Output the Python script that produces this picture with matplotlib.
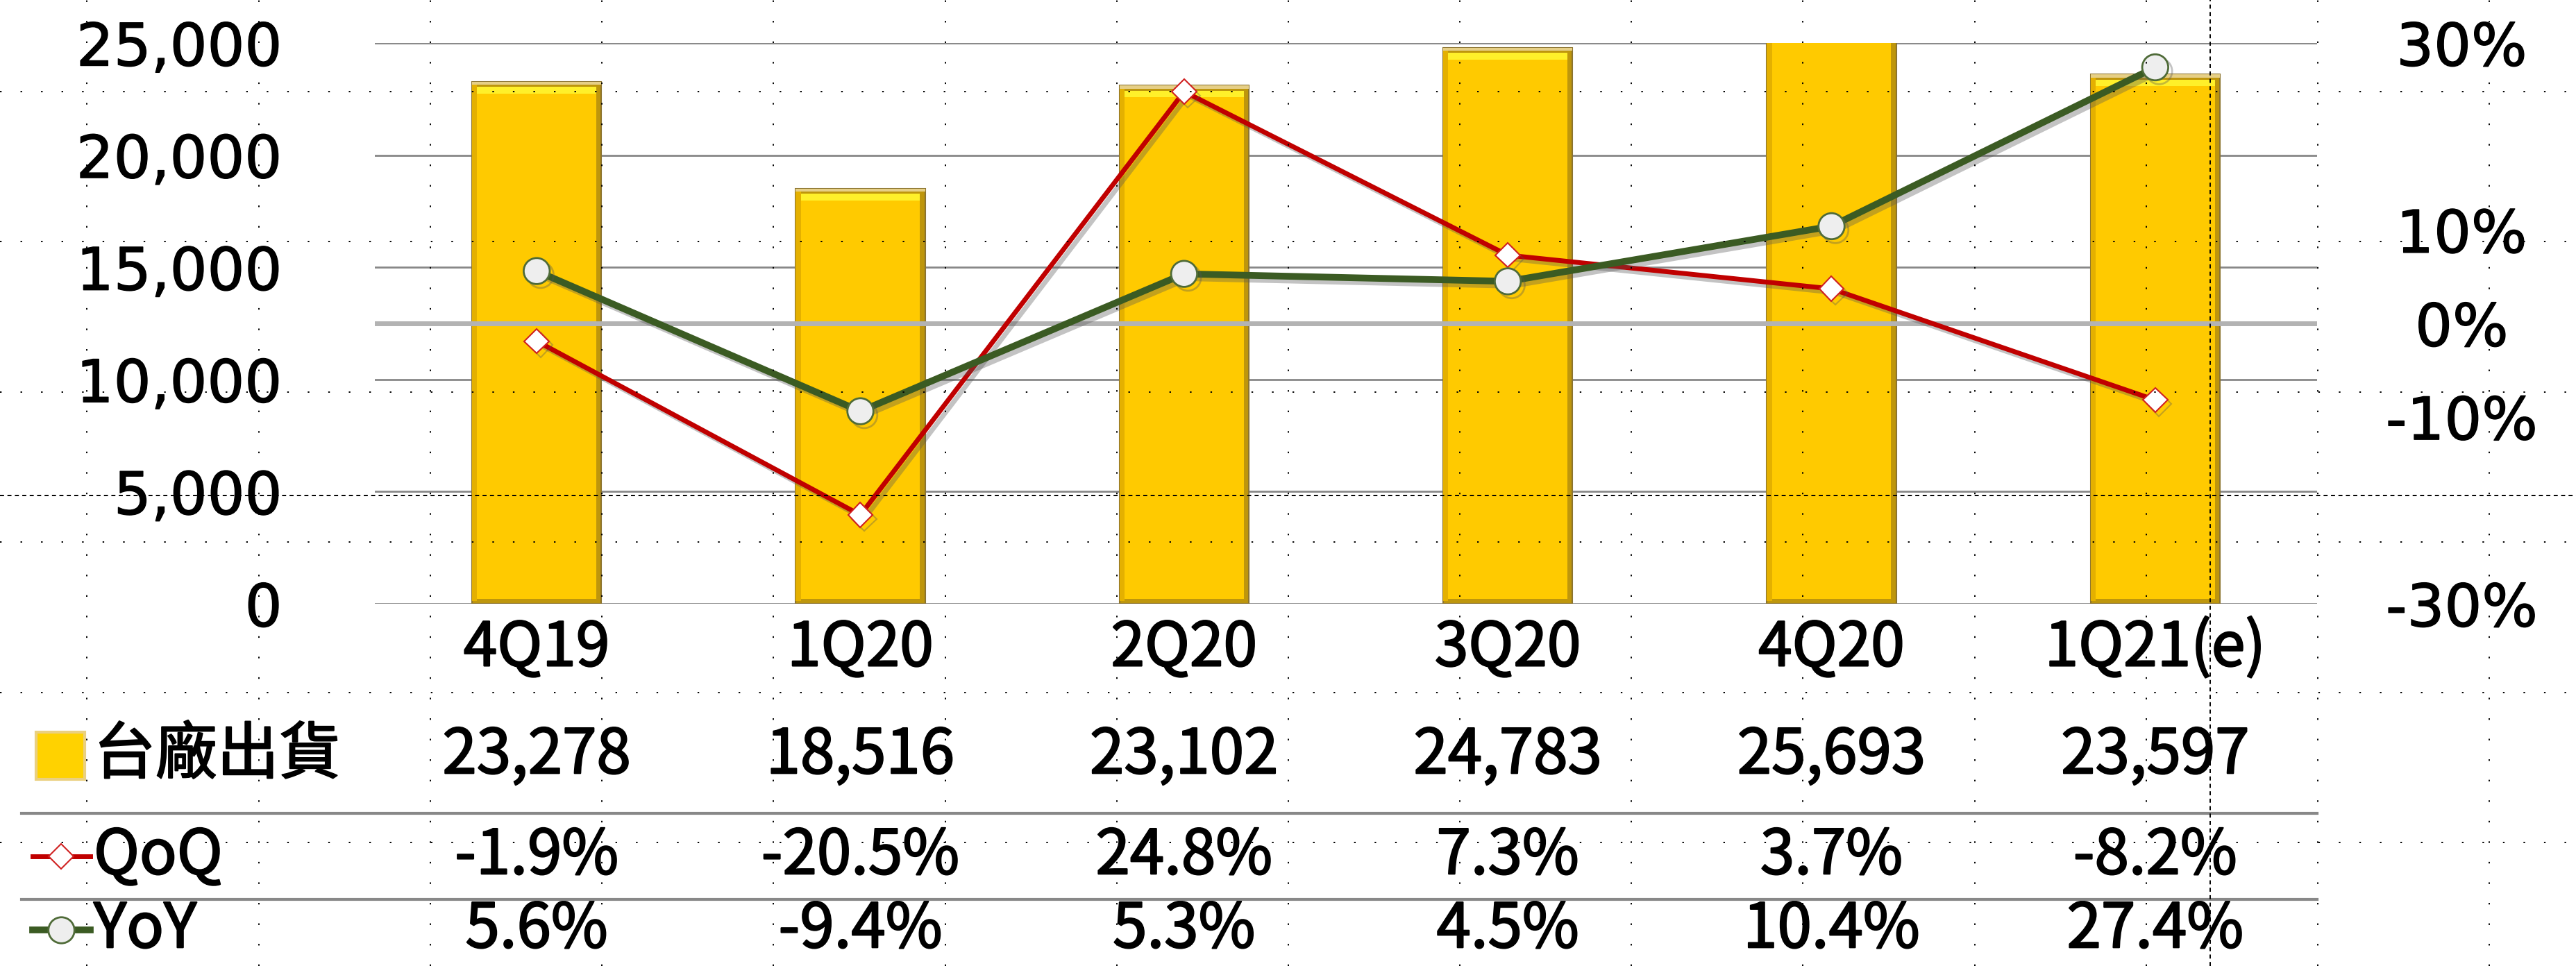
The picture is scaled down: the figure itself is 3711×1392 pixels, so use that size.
import matplotlib
matplotlib.use("Agg")
import matplotlib.pyplot as plt
import matplotlib.patheffects as pe
import matplotlib.transforms as mtransforms
from matplotlib.lines import Line2D
from matplotlib.patches import Rectangle
import numpy as np

quarters = ["4Q19", "1Q20", "2Q20", "3Q20", "4Q20", "1Q21(e)"]
shipments = [23278, 18516, 23102, 24783, 25693, 23597]
qoq = [-1.9, -20.5, 24.8, 7.3, 3.7, -8.2]
yoy = [5.6, -9.4, 5.3, 4.5, 10.4, 27.4]
left_ticks = [0, 5000, 10000, 15000, 20000, 25000]
right_ticks = [-30, -10, 0, 10, 30]
row_labels = ["台廠出貨", "QoQ", "YoY"]

W, H, DPI = 3712, 1392, 100
CJK = ["Noto Sans CJK TC", "DejaVu Sans"]
RED = "#C00000"
GREEN = "#3B5B23"
GRID = "#888888"
# regular glyphs with a thin outline: a semi-bold look
heavy = [pe.withStroke(linewidth=1.6, foreground="black")]
semi = [pe.withStroke(linewidth=1.0, foreground="black")]

plt.rcParams["font.family"] = ["DejaVu Sans", "Noto Sans CJK TC"]
plt.rcParams["axes.unicode_minus"] = False


def fx(px):
    return px / W


def fy(px):
    return 1 - px / H


fig = plt.figure(figsize=(W / DPI, H / DPI), dpi=DPI)
ax = fig.add_axes([fx(540), fy(870), fx(3338 - 540), (870 - 62) / H])
ax2 = ax.twinx()

x = np.arange(len(quarters))
vals = np.array(shipments, dtype=float)

# bevelled gold bars
bar_w, bev_x, bev_y = 0.4, 0.016, 230
ax.bar(x, vals, width=bar_w, color="#BE960C", edgecolor="#8C7430",
       linewidth=1.5, zorder=2)
ax.bar(x - bar_w / 2 + bev_x / 2, vals - bev_y, bottom=bev_y / 2, width=bev_x,
       color="#E4B000", linewidth=0, zorder=3)
ax.bar(x, vals - 2 * bev_y, bottom=bev_y, width=bar_w - 2 * bev_x,
       color="#FFCA00", linewidth=0, zorder=3)
ax.bar(x, bev_y * 1.3, bottom=vals - 2.3 * bev_y, width=bar_w - 2 * bev_x,
       color="#FFF02A", linewidth=0, zorder=3)
ax.bar(x, bev_y * 0.6, bottom=vals - 0.6 * bev_y, width=bar_w,
       color="#E6CF86", linewidth=0, zorder=3)

ax.set_xlim(-0.5, len(quarters) - 0.5)
ax.set_ylim(0, 25000)
ax.set_yticks(left_ticks)
ax.set_yticklabels([f"{t:,}" for t in left_ticks], fontsize=61)
ax.yaxis.grid(True, color=GRID, linewidth=2)
ax.set_axisbelow(True)
ax.set_xticks(x)
ax.set_xticklabels(quarters, fontsize=63, family=CJK)
ax.tick_params(axis="y", length=0, pad=96)
ax.tick_params(axis="x", length=0, pad=14)

# growth rates on secondary axis
ax2.set_ylim(-30, 30)
ax2.set_yticks(right_ticks)
ax2.set_yticklabels([f"{t}%" for t in right_ticks], fontsize=61)
ax2.tick_params(axis="y", length=0, pad=150)
for lbl in ax2.get_yticklabels():
    lbl.set_horizontalalignment("center")
    lbl.set_path_effects(semi)
for lbl in ax.get_yticklabels():
    lbl.set_path_effects(semi)
for lbl in ax.get_xticklabels():
    lbl.set_path_effects(heavy)
ax2.axhline(0, color="#B3B3B3", linewidth=5, zorder=1)

shadow = [pe.SimpleLineShadow(offset=(4, -4), shadow_color="#555555", alpha=0.35),
          pe.Normal()]
ax2.plot(x, qoq, color=RED, linewidth=5, marker="D", markersize=18,
         markerfacecolor="white", markeredgecolor="#D02020", markeredgewidth=1.5,
         zorder=4, path_effects=shadow)
ax2.plot(x, yoy, color=GREEN, linewidth=7, marker="o", markersize=27,
         markerfacecolor="#EEEEEE", markeredgecolor="#4F6B38", markeredgewidth=2,
         zorder=5, path_effects=shadow)

for a in (ax, ax2):
    for s in a.spines.values():
        s.set_visible(False)

# data table under the chart
trans = mtransforms.blended_transform_factory(ax.transData, fig.transFigure)
row_y = [fy(1089), fy(1234), fy(1340)]
rows = [[f"{v:,}" for v in shipments],
        [f"{v:.1f}%" for v in qoq],
        [f"{v:.1f}%" for v in yoy]]
for ry, texts in zip(row_y, rows):
    for xi, t in zip(x, texts):
        ax.text(xi, ry, t, transform=trans, ha="center", va="center",
                fontsize=64, family=CJK, path_effects=heavy)

for ly in (1172, 1296):
    fig.add_artist(Line2D([fx(31), fx(3338)], [fy(ly), fy(ly)], color=GRID,
                          linewidth=3))

for ry, label in zip(row_y, row_labels):
    fig.text(fx(135), ry, label, ha="left", va="center", fontsize=64,
             family=CJK, path_effects=heavy)

fig.add_artist(Rectangle((fx(52), fy(1089 + 34)), fx(70), 68 / H,
                         transform=fig.transFigure, facecolor="#FFD200",
                         edgecolor="#EAD080", linewidth=3))
fig.add_artist(Line2D([fx(47), fx(88), fx(130)], [row_y[1]] * 3, color=RED,
                      linewidth=5, marker="D", markersize=18, markevery=[1],
                      markerfacecolor="white", markeredgecolor="#D02020",
                      markeredgewidth=1.5))
fig.add_artist(Line2D([fx(47), fx(88), fx(130)], [row_y[2]] * 3, color=GREEN,
                      linewidth=7, marker="o", markersize=27, markevery=[1],
                      markerfacecolor="#EEEEEE", markeredgecolor="#4F6B38",
                      markeredgewidth=2))

# dotted layout guides that sit over the whole picture
dots = dict(color="black", linewidth=1.4, linestyle=(0, (1.2, 14)), zorder=20)
dense = dict(color="black", linewidth=1.4, linestyle=(0, (3, 2.5)), zorder=20)
for gx in 125.5 + 247.2 * np.arange(15):
    fig.add_artist(Line2D([fx(gx)] * 2, [0, 1], **dots))
for gy in 132 + 216.4 * np.arange(6):
    fig.add_artist(Line2D([0, 1], [fy(gy)] * 2, **dots))
fig.add_artist(Line2D([fx(3184)] * 2, [0, 1], **dense))
fig.add_artist(Line2D([0, 1], [fy(714)] * 2, **dense))

fig.savefig("out.png", dpi=DPI)
